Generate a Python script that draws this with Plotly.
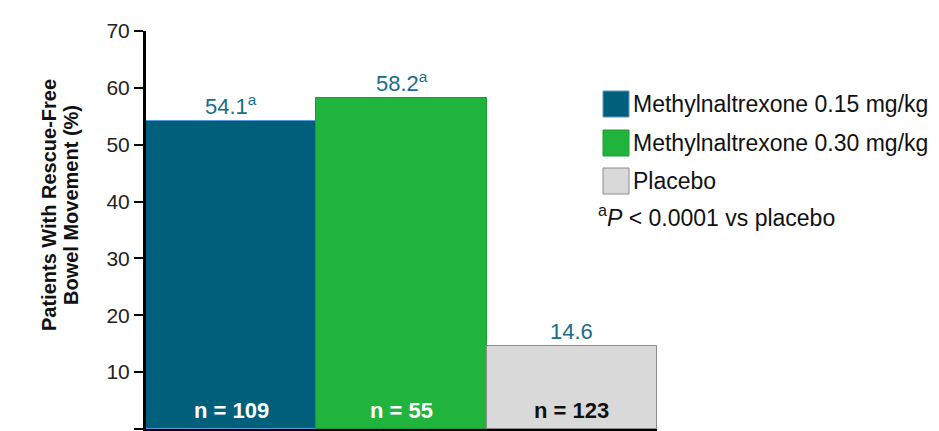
import plotly.graph_objects as go

groups = ["Methylnaltrexone 0.15 mg/kg", "Methylnaltrexone 0.30 mg/kg", "Placebo"]
values = [54.1, 58.2, 14.6]
value_labels = ["54.1<sup>a</sup>", "58.2<sup>a</sup>", "14.6"]
n_labels = ["n = 109", "n = 55", "n = 123"]
n_colors = ["white", "white", "#111111"]
colors = ["#005F7A", "#21B43C", "#D9D9D9"]
edge_colors = ["#5B9BD5", "#1E9A35", "#8C8C8C"]
y_ticks = [0, 10, 20, 30, 40, 50, 60, 70]
footnote = "<sup>a</sup><i>P</i> < 0.0001 vs placebo"
y_title_lines = ["Patients With Rescue-Free", "Bowel Movement (%)"]

FONT = "Liberation Sans, Arial, sans-serif"
W, H = 939, 431
L, R, T, B = 146, 282, 31, 2
pw, ph = W - L - R, H - T - B

def px_x(px):
    return (px - L) / pw

def px_y(py):
    return (H - B - py) / ph

fig = go.Figure()
fig.add_trace(go.Bar(
    x=list(range(len(values))), y=values, width=1,
    marker=dict(color=colors, line=dict(color=edge_colors, width=1)),
    showlegend=False, hoverinfo="skip",
))

for i, v in enumerate(values):
    fig.add_annotation(x=i, y=v, text=value_labels[i], showarrow=False,
                       yanchor="bottom", yshift=0,
                       font=dict(family=FONT, size=22, color="#1B6C8C"))
    fig.add_annotation(x=i, y=3.3, text="<b>" + n_labels[i] + "</b>", showarrow=False,
                       font=dict(family=FONT, size=22, color=n_colors[i]))

# custom legend
row_y = [104, 143, 181]
for i, g in enumerate(groups):
    fig.add_shape(type="rect", xref="paper", yref="paper",
                  x0=px_x(603), x1=px_x(629), y0=px_y(row_y[i] + 13), y1=px_y(row_y[i] - 13),
                  fillcolor=colors[i], line=dict(color=edge_colors[i], width=1))
    fig.add_annotation(xref="paper", yref="paper", x=px_x(631), y=px_y(row_y[i]),
                       xanchor="left", yanchor="middle", text=g, showarrow=False,
                       font=dict(family=FONT, size=23, color="#111111"))
fig.add_annotation(xref="paper", yref="paper", x=px_x(596), y=px_y(216),
                   xanchor="left", yanchor="middle", text=footnote, showarrow=False,
                   font=dict(family=FONT, size=23, color="#111111"))

# y-axis title (two lines)
for xc, line in zip([49, 71], y_title_lines):
    fig.add_annotation(xref="paper", yref="paper", x=px_x(xc), y=px_y(205),
                       text="<b>" + line + "</b>",
                       textangle=-90, showarrow=False, xanchor="center", yanchor="middle",
                       font=dict(family=FONT, size=20, color="#111111"))

fig.update_layout(
    width=W, height=H,
    margin=dict(l=L, r=R, t=T, b=B, autoexpand=False),
    plot_bgcolor="white", paper_bgcolor="white",
    bargap=0,
    xaxis=dict(range=[-0.5, 2.5], tickvals=[-0.5, 0.5, 1.5, 2.5], showticklabels=False,
               ticks="outside", ticklen=8, tickwidth=2, tickcolor="black",
               showline=True, linecolor="black", linewidth=3, showgrid=False, zeroline=False),
    yaxis=dict(range=[0, 70], tickvals=y_ticks, ticks="outside", ticklen=9, tickwidth=2,
               tickcolor="black", showline=True, linecolor="black", linewidth=3,
               showgrid=False, zeroline=False,
               tickfont=dict(family=FONT, size=21, color="#222222")),
)

fig.write_html("out.html")
